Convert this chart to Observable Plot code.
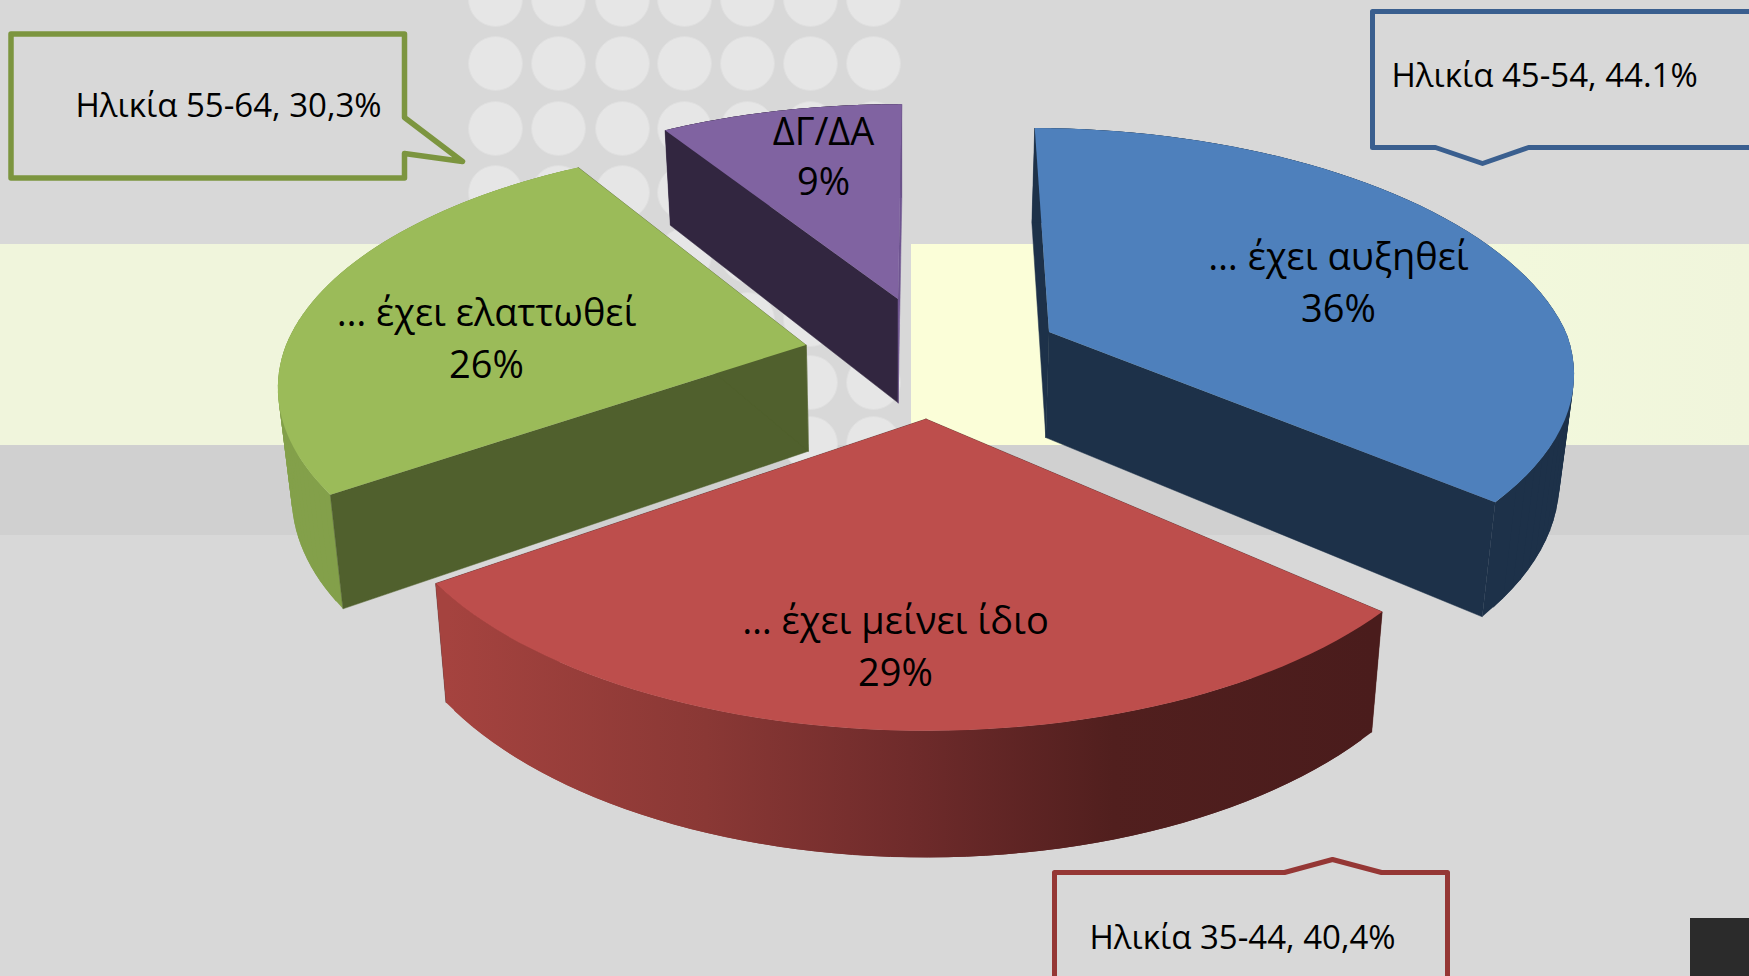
<!DOCTYPE html>
<html><head><meta charset="utf-8">
<script src="https://cdn.jsdelivr.net/npm/d3@7"></script>
<script src="https://cdn.jsdelivr.net/npm/@observablehq/plot@0.6"></script>
<style>html,body{margin:0;padding:0;background:#d9d9d9;overflow:hidden}svg{display:block}</style>
</head><body><div id="chart"></div>
<script>
// data
const categories = ["… έχει αυξηθεί", "… έχει μείνει ίδιο", "… έχει ελαττωθεί", "ΔΓ/ΔΑ"];
const values = [36, 29, 26, 9];
const calloutTexts = ["Ηλικία 45-54, 44.1%", "Ηλικία 35-44, 40,4%", "Ηλικία 55-64, 30,3%"];

// styling / projection
const topColors = ["#4e80bc", "#bd4e4c", "#9bbb59", "#8063a1"];
const startWall = ["#1d3149", "#4f1e1d", "#50602d", "#322640"];
const endWall = ["#1d3149", "#4f1e1d", "#50602d", "#6f5590"];
const outerFills = ["#1d3149", "url(#redWall)", "#83a04a", "#322640"];
const apexes = [[1049,332],[926,419],[806,345],[898,299]];
const radii = [[517,235],[545,265],[520,238],[497,224]];
const nudges = [0.4, 1.4, 1.5, 0.5];
const persps = [0.175, 0.15, 0.175, 0.15];
const skews = [0.085, 0, -0.025, 0];
const backScale = [1.02, 1, 1, 1];
const X0 = 905, depthX = 0.978, depthYk = 1.053, depthY0 = 88;
const W = 1749, H = 976;

let cum = 0;
const slices = values.map((v, i) => {
  const a0 = cum * 3.6 + nudges[i], a1 = (cum + v) * 3.6 + nudges[i];
  cum += v;
  const [ax, ay] = apexes[i], [rx, ry] = radii[i], persp = persps[i];
  const top = t => {
    const r = t * Math.PI / 180, w = 1 + persp * Math.cos(r);
    let sy = -ry * Math.cos(r) / w;
    if (sy < 0) sy *= backScale[i];
    return [ax + rx * Math.sin(r) / w + skews[i] * Math.min(sy, 0), ay + sy];
  };
  const low = ([x, y]) => [X0 + depthX * (x - X0), y * depthYk + depthY0];
  const arc = d3.range(0, 61).map(k => top(a0 + (a1 - a0) * k / 60));
  return {i, low, arc, apex: [ax, ay]};
});

const sliceMarks = s => {
  const {i, arc, low, apex} = s;
  const edge = p => [{a: apex, b: low(apex)}, {a: p, b: low(p)}];
  const opts = (fill) => ({x1: d => d.a[0], y1: d => d.a[1], x2: d => d.b[0], y2: d => d.b[1], fill, curve: "linear"});
  const quads = d3.range(59).flatMap(k => [arc[k], arc[k + 2]].map(p => ({a: p, b: low(p), z: k})));
  const outer = Plot.area(quads, {...opts(outerFills[i]), z: "z"});
  const sideA = Plot.area(edge(arc[0]), {...opts(startWall[i]), stroke: startWall[i], strokeWidth: 0.5});
  const sideB = Plot.area(edge(arc[60]), {...opts(endWall[i]), stroke: endWall[i], strokeWidth: 0.5});
  const face = Plot.area(arc.map(p => ({a: p, b: apex})), opts(topColors[i]));
  return i === 0 || i === 1 ? [sideA, sideB, outer, face] : [outer, sideA, sideB, face];
};

// background pattern
const circleXs = [495, 558, 622, 684, 747, 810, 873];
const circleYs = [-1, 63, 128, 192, 255, 319, 382, 443];
const circles = circleXs.flatMap(x => circleYs.map(y => ({x, y})));
const bands = [
  {x1: 0, x2: W, y1: 0, y2: H, fill: "#d8d8d8"},
  {x1: 0, x2: W, y1: 445, y2: 535, fill: "#d0d0d0"},
  {x1: 0, x2: 470, y1: 244, y2: 445, fill: "#f0f5dc"},
  {x1: 911, x2: W, y1: 244, y2: 445, fill: "url(#bandRight)"},
  {x1: 1690, x2: W, y1: 918, y2: H, fill: "#2b2b2b"}
];

// callouts
const callouts = [
  {t: calloutTexts[0], color: "#3a5f8f", sw: 5, tx: 1391, ty: 86,
   pts: [[1372,11],[1760,11],[1760,147],[1528,147],[1482,163],[1435,147],[1372,147],[1372,11]]},
  {t: calloutTexts[1], color: "#953735", sw: 5, tx: 1089, ty: 948,
   pts: [[1054,872],[1284,872],[1332,859],[1381,872],[1447,872],[1447,990],[1054,990],[1054,872]]},
  {t: calloutTexts[2], color: "#7c953f", sw: 5.5, tx: 75, ty: 116,
   pts: [[10.5,33.5],[404,33.5],[404,117],[462,161],[404,153],[404,177.5],[10.5,177.5],[10.5,33.5]]}
];

// label positions
const labelPos = [[1338, 257, 309], [895, 621, 673], [486, 313, 365], [823, 132, 182]];
const labels = categories.flatMap((c, i) => [
  {t: c, x: labelPos[i][0], y: labelPos[i][1]},
  {t: values[i] + "%", x: labelPos[i][0], y: labelPos[i][2]}
]);

const font = "'Open Sans','Noto Sans',sans-serif";
const ns = "http://www.w3.org/2000/svg";
const grad = (id, x1, x2, stops) => {
  const g = document.createElementNS(ns, "linearGradient");
  g.setAttribute("id", id);
  g.setAttribute("gradientUnits", "userSpaceOnUse");
  g.setAttribute("x1", x1); g.setAttribute("x2", x2); g.setAttribute("y1", 0); g.setAttribute("y2", 0);
  stops.forEach(([o, c]) => {
    const st = document.createElementNS(ns, "stop");
    st.setAttribute("offset", o); st.setAttribute("stop-color", c); g.appendChild(st);
  });
  return g;
};
const defs = () => {
  const d = document.createElementNS(ns, "defs");
  d.appendChild(grad("redWall", 447, 1372, [["0", "#a5433f"], ["0.28", "#8a3835"], ["0.5", "#6f2b2b"], ["0.72", "#511f1e"], ["1", "#4a1c1c"]]));
  d.appendChild(grad("bandRight", 911, 1749, [["0", "#fbfed8"], ["0.35", "#fbfed8"], ["0.72", "#f2f8dc"], ["1", "#f0f5dc"]]));
  return d;
};

const order = [3, 2, 0, 1];
const plot = Plot.plot({
  width: W, height: H, margin: 0,
  x: {domain: [0, W], range: [0, W], axis: null},
  y: {domain: [0, H], range: [0, H], axis: null},
  style: {background: "#d8d8d8", fontFamily: font},
  marks: [
    defs,
    Plot.rect(bands, {x1: "x1", x2: "x2", y1: "y1", y2: "y2", fill: d => d.fill}),
    Plot.dot(circles, {x: "x", y: "y", r: 27, fill: "#e6e6e6", stroke: "#dfdfdf", strokeWidth: 1}),
    ...order.flatMap(i => sliceMarks(slices[i])),
    ...callouts.map(c => Plot.line(c.pts, {x: d => d[0], y: d => d[1], stroke: c.color, strokeWidth: c.sw, strokeLinejoin: "round", curve: "linear"})),
    Plot.text(callouts, {x: "tx", y: "ty", text: "t", textAnchor: "start", lineAnchor: "bottom", fontSize: 33, fill: "#000", dy: 0}),
    Plot.text(labels, {x: "x", y: "y", text: "t", textAnchor: "middle", lineAnchor: "middle", fontSize: 38, fill: "#000"})
  ]
});
document.getElementById("chart").appendChild(plot);
</script></body></html>
